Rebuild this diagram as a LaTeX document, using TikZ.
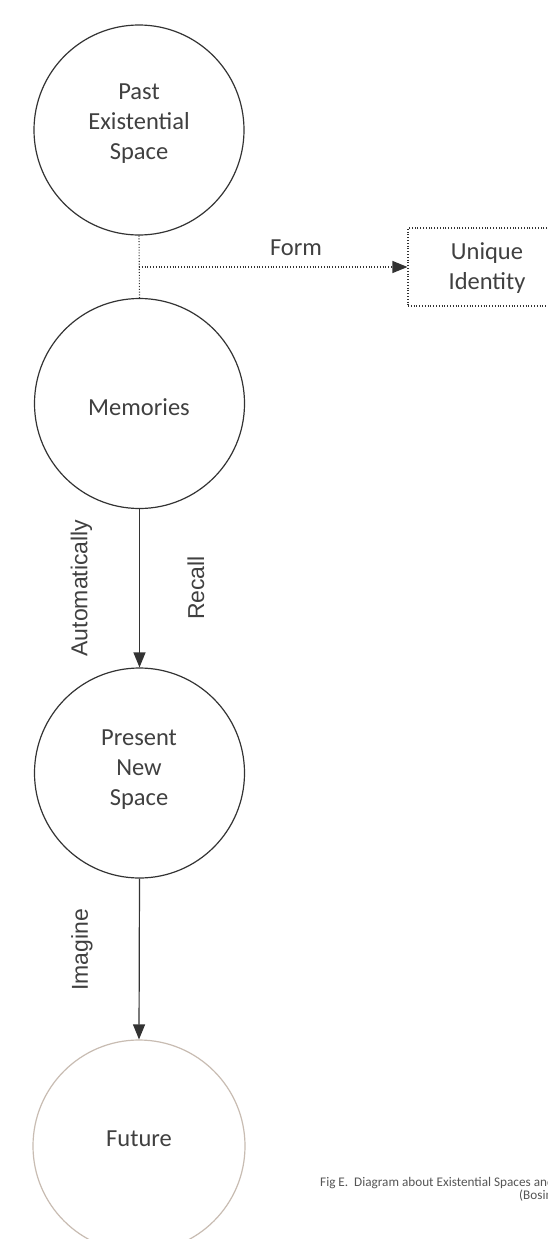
\documentclass[tikz,border=0pt]{standalone}
\usepackage{fontspec}
\setmainfont{Carlito}
\newfontfamily\labelfont{Liberation Sans}
\usetikzlibrary{arrows.meta}
\definecolor{ink}{HTML}{333333}
\definecolor{txtgray}{HTML}{404040}
\definecolor{futureline}{RGB}{200,188,178}
\definecolor{capgray}{HTML}{555555}
\tikzset{
  spacecirc/.style={circle, draw=ink, line width=1.2pt, inner sep=0pt, minimum size=210pt},
  spacetext/.style={align=center, text=txtgray, font=\fontsize{24.5}{30}\selectfont, inner sep=0pt},
  edgelabel/.style={text=txtgray, font=\labelfont\fontsize{23}{26}\selectfont, inner sep=0pt},
  flow/.style={draw=ink, line width=1.2pt, -{Triangle[length=15pt,width=12pt]}},
  dotline/.style={draw=ink, line width=1.1pt, dash pattern=on 1pt off 1.8pt},
  notebox/.style={draw=ink, line width=1.1pt, dash pattern=on 1pt off 1.8pt, minimum width=158pt, minimum height=78pt, inner sep=0pt},
  captext/.style={text=capgray, font=\fontsize{13.2}{10}\selectfont, inner sep=0pt}
}
\begin{document}
\begin{tikzpicture}[x=1pt, y=-1pt]
\useasboundingbox (0,0) rectangle (548,1239);
\fill[white] (0,0) rectangle (548,1239);

% the four spaces
\node[spacecirc] (past) at (139,130) {};
\node[spacecirc] (mem) at (139.5,403.5) {};
\node[spacecirc] (pres) at (139.5,773) {};
\node[spacecirc, draw=futureline, minimum size=212pt] (fut) at (139,1146) {};

\node[spacetext] (pastt) at (139,124) {Past\\Existential\\Space};
\node[spacetext] (memt) at (139,407) {Memories};
\node[spacetext] (prest) at (139,770) {Present\\New\\Space};
\node[spacetext] (futt) at (139,1139) {Future};

% identity box and the dotted branch to it
\node[notebox] (ident) at (487,267) {};
\node[spacetext] (identt) at (487,268) {Unique\\Identity};
\coordinate (branch) at (139,267);
\draw[dotline] (past.south) -- (mem.north);
\draw[dotline, -{Triangle[length=15pt,width=12pt]}] (branch) -- (ident.west);
\node[spacetext] (form) at (296,248) {Form};

% solid flows
\draw[flow] (mem.south) -- (pres.north);
\draw[flow] (pres.south) -- (fut.north);
\node[edgelabel, rotate=90] (auto) at (81.5,588) {Automatically};
\node[edgelabel, rotate=90] (recall) at (196,588) {Recall};
\node[edgelabel, rotate=90] (imag) at (82,950) {Imagine};

% caption
\node[captext, anchor=west] (cap1) at (320,1183) {Fig E.\ \ Diagram about Existential Spaces and};
\node[captext, anchor=west] (cap2) at (519,1196) {(Bosin};
\end{tikzpicture}
\end{document}
